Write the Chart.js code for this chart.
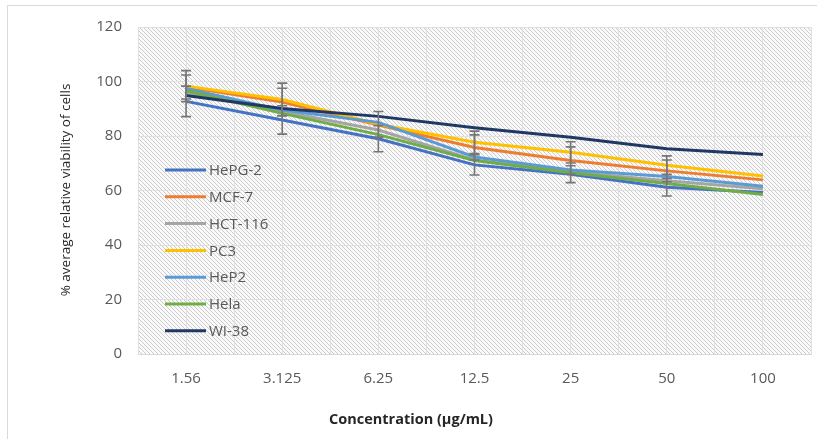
<!DOCTYPE html>
<html>
<head>
<meta charset="utf-8">
<script src="https://cdn.jsdelivr.net/npm/chart.js@4/dist/chart.umd.min.js"></script>
<style>
    body { margin: 0; background: #fff; }
    #wrap { width: 817px; height: 439px; }
</style>
</head>
<body>
<div id="wrap"><canvas id="myChart" width="817" height="439"></canvas></div>
<script>
const categories = ["1.56", "3.125", "6.25", "12.5", "25", "50", "100"];

const hepg2 = [92.7, 85.9, 79.0, 69.4, 66.0, 61.2, 59.3];
const mcf7 = [98.0, 92.5, 84.0, 75.8, 71.0, 67.2, 63.9];
const hct116 = [96.0, 89.0, 82.2, 71.2, 66.8, 63.6, 60.6];
const pc3 = [98.3, 93.4, 84.3, 77.7, 74.0, 69.3, 65.3];
const hep2 = [97.4, 89.5, 85.0, 72.3, 67.5, 65.1, 61.6];
const hela = [96.6, 88.3, 80.5, 71.0, 66.5, 62.6, 58.5];
const wi38 = [94.9, 90.1, 87.2, 83.0, 79.5, 75.3, 73.2];

// +/- error (null = no bar)
const hepg2Err = [5.6, 5.2, 4.8, 3.7, 3.1, 3.2, null];
const mcf7Err = [4.4, 5.0, null, 4.6, 5.0, 4.0, null];
const pc3Err = [5.7, 6.0, 4.7, 4.1, 3.9, 3.4, null];

const seriesNames = ["HePG-2", "MCF-7", "HCT-116", "PC3", "HeP2", "Hela", "WI-38"];
const seriesValues = [hepg2, mcf7, hct116, pc3, hep2, hela, wi38];
const seriesErrors = [hepg2Err, mcf7Err, null, pc3Err, null, null, null];
const colors = ["#4472C4", "#ED7D31", "#A5A5A5", "#FFC000", "#5B9BD5", "#70AD47", "#1F3864"];

const yTicks = [0, 20, 40, 60, 80, 100, 120];

function makeHatch() {
    const c = document.createElement("canvas");
    c.width = 4; c.height = 4;
    const g = c.getContext("2d");
    g.fillStyle = "#fafafa";
    g.fillRect(0, 0, 4, 4);
    g.strokeStyle = "#cccccc";
    g.lineWidth = 1;
    g.beginPath();
    g.moveTo(-1, -1); g.lineTo(5, 5);
    g.moveTo(-1, 3); g.lineTo(1, 5);
    g.moveTo(3, -1); g.lineTo(5, 1);
    g.stroke();
    return c;
}

const backdrop = {
    id: "backdrop",
    beforeDraw(chart) {
        const { ctx, chartArea: a } = chart;
        ctx.save();
        ctx.strokeStyle = "#d9d9d9";
        ctx.lineWidth = 1;
        ctx.strokeRect(7.5, 5.5, 840, 450);
        ctx.fillStyle = ctx.createPattern(makeHatch(), "repeat");
        ctx.fillRect(a.left, a.top, a.right - a.left, a.bottom - a.top);
        ctx.restore();
    }
};

const errorBars = {
    id: "errorBars",
    afterDatasetsDraw(chart) {
        const { ctx } = chart;
        const xs = chart.scales.x, ys = chart.scales.y;
        ctx.save();
        ctx.strokeStyle = "#767676";
        ctx.lineWidth = 1.6;
        seriesErrors.forEach((errs, s) => {
            if (!errs) return;
            errs.forEach((e, i) => {
                if (e == null) return;
                const v = seriesValues[s][i];
                const x = xs.getPixelForValue(i);
                const yHi = ys.getPixelForValue(v + e);
                const yLo = ys.getPixelForValue(v - e);
                ctx.beginPath();
                ctx.moveTo(x, yHi); ctx.lineTo(x, yLo);
                ctx.moveTo(x - 5, yHi); ctx.lineTo(x + 5, yHi);
                ctx.moveTo(x - 5, yLo); ctx.lineTo(x + 5, yLo);
                ctx.stroke();
            });
        });
        ctx.restore();
    }
};

const labelsAndLegend = {
    id: "labelsAndLegend",
    afterDraw(chart) {
        const { ctx } = chart;
        ctx.save();
        // legend inside plot
        ctx.font = "15px 'Open Sans'";
        ctx.textBaseline = "middle";
        ctx.textAlign = "left";
        seriesNames.forEach((name, i) => {
            const y = 170 + i * 26.8;
            ctx.strokeStyle = colors[i];
            ctx.lineWidth = 3;
            ctx.beginPath();
            ctx.moveTo(165, y); ctx.lineTo(206, y);
            ctx.stroke();
            ctx.fillStyle = "#595959";
            ctx.fillText(name, 209, y + 1);
        });
        // axis titles
        ctx.fillStyle = "#262626";
        ctx.textAlign = "center";
        ctx.font = "bold 14.5px 'Open Sans'";
        ctx.fillText("Concentration (µg/mL)", 411, 420);
        ctx.translate(66, 190);
        ctx.rotate(-Math.PI / 2);
        ctx.font = "13.5px 'Open Sans'";
        ctx.fillText("% average relative viability of cells", 0, 0);
        ctx.restore();
    }
};

new Chart(document.getElementById("myChart").getContext("2d"), {
    type: "line",
    data: {
        labels: categories,
        datasets: seriesNames.map((name, i) => ({
            label: name,
            data: seriesValues[i],
            borderColor: colors[i],
            backgroundColor: colors[i],
            borderWidth: 3,
            pointRadius: 0,
            tension: 0,
            order: seriesNames.length - i
        }))
    },
    options: {
        responsive: false,
        animation: false,
        layout: { padding: { left: 0, right: 6, top: 27, bottom: 0 } },
        plugins: { legend: { display: false }, tooltip: { enabled: false } },
        scales: {
            x: {
                offset: true,
                grid: { display: false },
                border: { display: true, color: "#d9d9d9" },
                ticks: { color: "#595959", font: { size: 15, family: "'Open Sans'" }, padding: 8 },
                afterFit: s => { s.height = 85; }
            },
            xg: {
                type: "linear",
                position: "top",
                min: -0.5,
                max: 6.5,
                ticks: { display: false, stepSize: 0.5 },
                grid: { color: "#e0e0e0", drawTicks: false },
                border: { display: false },
                afterFit: s => { s.height = 0; }
            },
            y: {
                min: 0,
                max: 120,
                afterBuildTicks: s => { s.ticks = yTicks.map(v => ({ value: v })); },
                grid: { color: "#e0e0e0", drawTicks: false },
                border: { display: false },
                ticks: { color: "#595959", font: { size: 15, family: "'Open Sans'" }, padding: 16 },
                afterFit: s => { s.width = 138; }
            }
        }
    },
    plugins: [backdrop, errorBars, labelsAndLegend]
});
</script>
</body>
</html>
